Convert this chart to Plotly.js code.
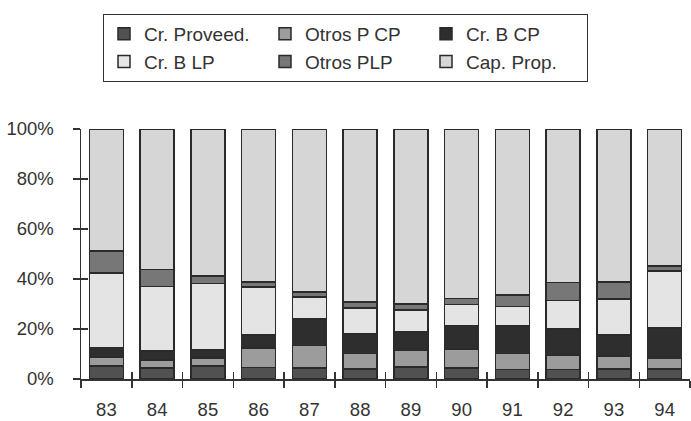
<!DOCTYPE html>
<html>
<head>
<meta charset="utf-8">
<script src="https://cdn.plot.ly/plotly-3.0.1.min.js"></script>
<style>html,body{margin:0;padding:0;background:#fff;}#chart{width:691px;height:421px;}</style>
</head>
<body>
<div id="chart"></div>
<script>
// Categories (years)
const years = ['83','84','85','86','87','88','89','90','91','92','93','94'];
// Series (% of total), bottom to top
const crProveed = [5.2, 4.5, 5.2, 4.7, 4.5, 4.1, 4.9, 4.5, 3.9, 3.9, 4.1, 4.0];
const otrosPCP  = [3.7, 3.1, 3.2, 7.7, 9.0, 6.2, 6.6, 7.6, 6.4, 5.7, 5.1, 4.3];
const crBCP     = [3.8, 3.7, 3.2, 5.3, 10.5, 7.7, 7.3, 9.4, 10.9, 10.5, 8.5, 12.1];
const crBLP     = [29.7, 25.8, 26.7, 19.2, 8.9, 10.4, 8.9, 8.4, 7.9, 11.4, 14.4, 22.8];
const otrosPLP  = [8.9, 6.8, 2.9, 2.0, 1.9, 2.4, 2.4, 2.4, 4.6, 7.2, 6.8, 2.1];
const capProp   = [48.7, 56.1, 58.8, 61.1, 65.2, 69.2, 69.9, 67.7, 66.3, 61.3, 61.1, 54.7];
const seriesNames = ['Cr. Proveed.', 'Otros P CP', 'Cr. B CP', 'Cr. B LP', 'Otros PLP', 'Cap. Prop.'];
const yTickVals = [0, 20, 40, 60, 80, 100];
const yTickText = ['0%', '20%', '40%', '60%', '80%', '100%'];

const seriesData = [crProveed, otrosPCP, crBCP, crBLP, otrosPLP, capProp];
const colors = ['#515151', '#9c9c9c', '#2e2e2e', '#e4e4e4', '#777777', '#d6d6d6'];
const FONT = 'Liberation Sans, Arial, sans-serif';

const traces = seriesData.map((vals, i) => ({
  type: 'bar',
  name: seriesNames[i],
  x: years,
  y: vals,
  marker: {color: colors[i], line: {color: '#2a2a2a', width: 1.5}},
  hoverinfo: 'name+y'
}));
// dummy trace to create the overlay subplot (for crossing ticks)
traces.push({type: 'scatter', x: [], y: [], xaxis: 'x2', yaxis: 'y2', showlegend: false, hoverinfo: 'skip'});

const layout = {
  width: 691, height: 421,
  margin: {l: 81, r: 1, t: 129, b: 42},
  paper_bgcolor: '#fff', plot_bgcolor: '#fff',
  barmode: 'stack', barnorm: 'percent', bargap: 0.33,
  font: {family: FONT, size: 18.5, color: '#333'},
  showlegend: true,
  legend: {
    orientation: 'h', traceorder: 'normal',
    xref: 'container', yref: 'container',
    x: 103/691, xanchor: 'left', y: 1 - 14/421, yanchor: 'top',
    bordercolor: '#333', borderwidth: 1, bgcolor: '#fff',
    entrywidth: 116, entrywidthmode: 'pixels',
    font: {family: FONT, size: 19, color: '#333'}
  },
  xaxis: {
    type: 'category', categoryorder: 'array', categoryarray: years,
    showline: true, linecolor: '#333', linewidth: 1.5,
    ticks: 'outside', tickson: 'boundaries', ticklen: 7, tickwidth: 1.5, tickcolor: '#333',
    showgrid: false, zeroline: false, ticklabelstandoff: 13,
    tickfont: {family: FONT, size: 18.5, color: '#333'}, fixedrange: true
  },
  yaxis: {
    range: [0, 100], tickmode: 'array', tickvals: yTickVals, ticktext: yTickText,
    showline: true, linecolor: '#333', linewidth: 1.5,
    ticks: 'outside', ticklen: 7, tickwidth: 1.5, tickcolor: '#333',
    showgrid: false, zeroline: false, ticklabelstandoff: 15,
    tickfont: {family: FONT, size: 18.5, color: '#333'}, fixedrange: true
  },
  xaxis2: {
    overlaying: 'x', anchor: 'y', range: [-0.5, 11.5], tickmode: 'linear', tick0: -0.5, dtick: 1,
    ticks: 'inside', ticklen: 7, tickwidth: 1.5, tickcolor: '#333',
    showticklabels: false, showline: false, showgrid: false, zeroline: false, fixedrange: true
  },
  yaxis2: {
    overlaying: 'y', anchor: 'x', side: 'left', range: [0, 100], tickvals: yTickVals,
    ticks: 'inside', ticklen: 7, tickwidth: 1.5, tickcolor: '#333',
    showticklabels: false, showline: false, showgrid: false, zeroline: false, fixedrange: true
  }
};

Plotly.newPlot('chart', traces, layout, {displayModeBar: false, staticPlot: true});
</script>
</body>
</html>
